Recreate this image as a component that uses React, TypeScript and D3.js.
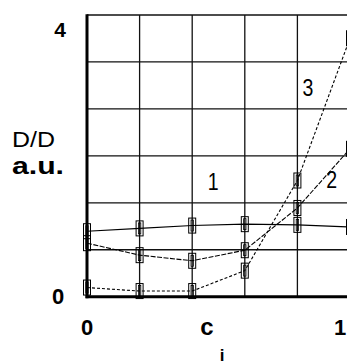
import React from "react";
import * as d3 from "d3";

const xValues = [0, 0.2, 0.4, 0.6, 0.8, 1.0];
const series1 = [0.93, 0.97, 1.01, 1.03, 1.02, 0.99];
const series2 = [0.76, 0.59, 0.51, 0.66, 1.26, 2.1];
const series3 = [0.13, 0.08, 0.08, 0.37, 1.65, 3.67];
const seriesNames = ["1", "2", "3"];
const xTickLabels = ["0", "1"];
const yTickLabels = ["0", "4"];

const W = 347;
const H = 364;

export default function App() {
  const x = d3.scaleLinear().domain([0, 1]).range([87, 350]);
  const y = d3.scaleLinear().domain([0, 4]).range([296.7, 15]);
  const xGrid = d3.range(0, 1.0001, 0.2);
  const yGrid = d3.range(0, 6.0001, 1).map((i) => (i * 4) / 6);

  const line = d3
    .line<number>()
    .x((_, i) => x(xValues[i]))
    .y((d) => y(d));

  const all = [series1, series2, series3];
  const dashes = [null, "5,1.5", "3,2"];

  const labelPos = [
    { v: [0.48, 1.52], name: seriesNames[0] },
    { v: [0.93, 1.55], name: seriesNames[1] },
    { v: [0.84, 2.85], name: seriesNames[2] },
  ];

  const font = "Liberation Sans, Arial, sans-serif";

  return (
    <svg
      width={W}
      height={H}
      style={{ position: "absolute", left: 0, top: 0, background: "#fff" }}
    >
      <rect x={0} y={0} width={W} height={H} fill="#fff" />
      {/* grid */}
      {xGrid.map((g, i) => (
        <line
          key={"xg" + i}
          x1={x(g)}
          x2={x(g)}
          y1={y(4)}
          y2={y(0)}
          stroke="#111"
          strokeWidth={1.3}
        />
      ))}
      {yGrid.map((g, i) => (
        <line
          key={"yg" + i}
          x1={x(0)}
          x2={x(1) + 5}
          y1={y(g)}
          y2={y(g)}
          stroke="#111"
          strokeWidth={1.3}
        />
      ))}
      {/* series */}
      {all.map((s, si) => (
        <path
          key={"s" + si}
          d={line(s) || ""}
          fill="none"
          stroke="#000"
          strokeWidth={1.1}
          strokeDasharray={dashes[si] || undefined}
        />
      ))}
      {all.map((s, si) =>
        s.map((v, i) => (
          <g key={"m" + si + "-" + i}>
            <rect
              x={x(xValues[i]) - 3.5}
              y={y(v) - 7.5}
              width={7}
              height={15}
              fill="none"
              stroke="#000"
              strokeWidth={1}
            />
            <rect
              x={x(xValues[i]) - 1.2}
              y={y(v) - 5.5}
              width={2.4}
              height={11}
              fill="none"
              stroke="#000"
              strokeWidth={0.8}
            />
          </g>
        ))
      )}
      {/* axes */}
      <line x1={x(0)} x2={x(0)} y1={y(4) - 0.7} y2={y(0) + 1.5} stroke="#000" strokeWidth={3} />
      <line x1={x(0) - 1.5} x2={W} y1={y(0)} y2={y(0)} stroke="#000" strokeWidth={3} />

      {/* series labels */}
      {labelPos.map((l, i) => (
        <text
          key={"lab" + i}
          x={x(l.v[0])}
          y={y(l.v[1])}
          fontFamily="Liberation Sans Narrow, Liberation Sans, Arial, sans-serif"
          fontSize={23}
          textAnchor="middle"
          transform={`translate(${x(l.v[0])},0) scale(0.85,1) translate(${-x(l.v[0])},0)`}
        >
          {l.name}
        </text>
      ))}

      {/* tick labels */}
      <text x={60} y={37} fontFamily={font} fontWeight="bold" fontSize={21} textAnchor="middle">
        {yTickLabels[1]}
      </text>
      <text x={58} y={304} fontFamily={font} fontWeight="bold" fontSize={22} textAnchor="middle">
        {yTickLabels[0]}
      </text>
      <text x={x(0)} y={335} fontFamily={font} fontWeight="bold" fontSize={22} textAnchor="middle">
        {xTickLabels[0]}
      </text>
      <text x={340} y={335} fontFamily={font} fontWeight="bold" fontSize={22} textAnchor="middle">
        {xTickLabels[1]}
      </text>
      {/* axis titles */}
      <text x={207} y={335} fontFamily={font} fontWeight="bold" fontSize={24} textAnchor="middle">
        c
      </text>
      <text x={222} y={361} fontFamily={font} fontWeight="bold" fontSize={17} textAnchor="middle">
        i
      </text>
      <text x={12} y={147} fontFamily={font} fontSize={22} textLength={43} lengthAdjust="spacingAndGlyphs">
        D/D
      </text>
      <text x={12} y={174} fontFamily={font} fontWeight="bold" fontSize={24} textLength={52} lengthAdjust="spacingAndGlyphs">
        a.u.
      </text>
    </svg>
  );
}
